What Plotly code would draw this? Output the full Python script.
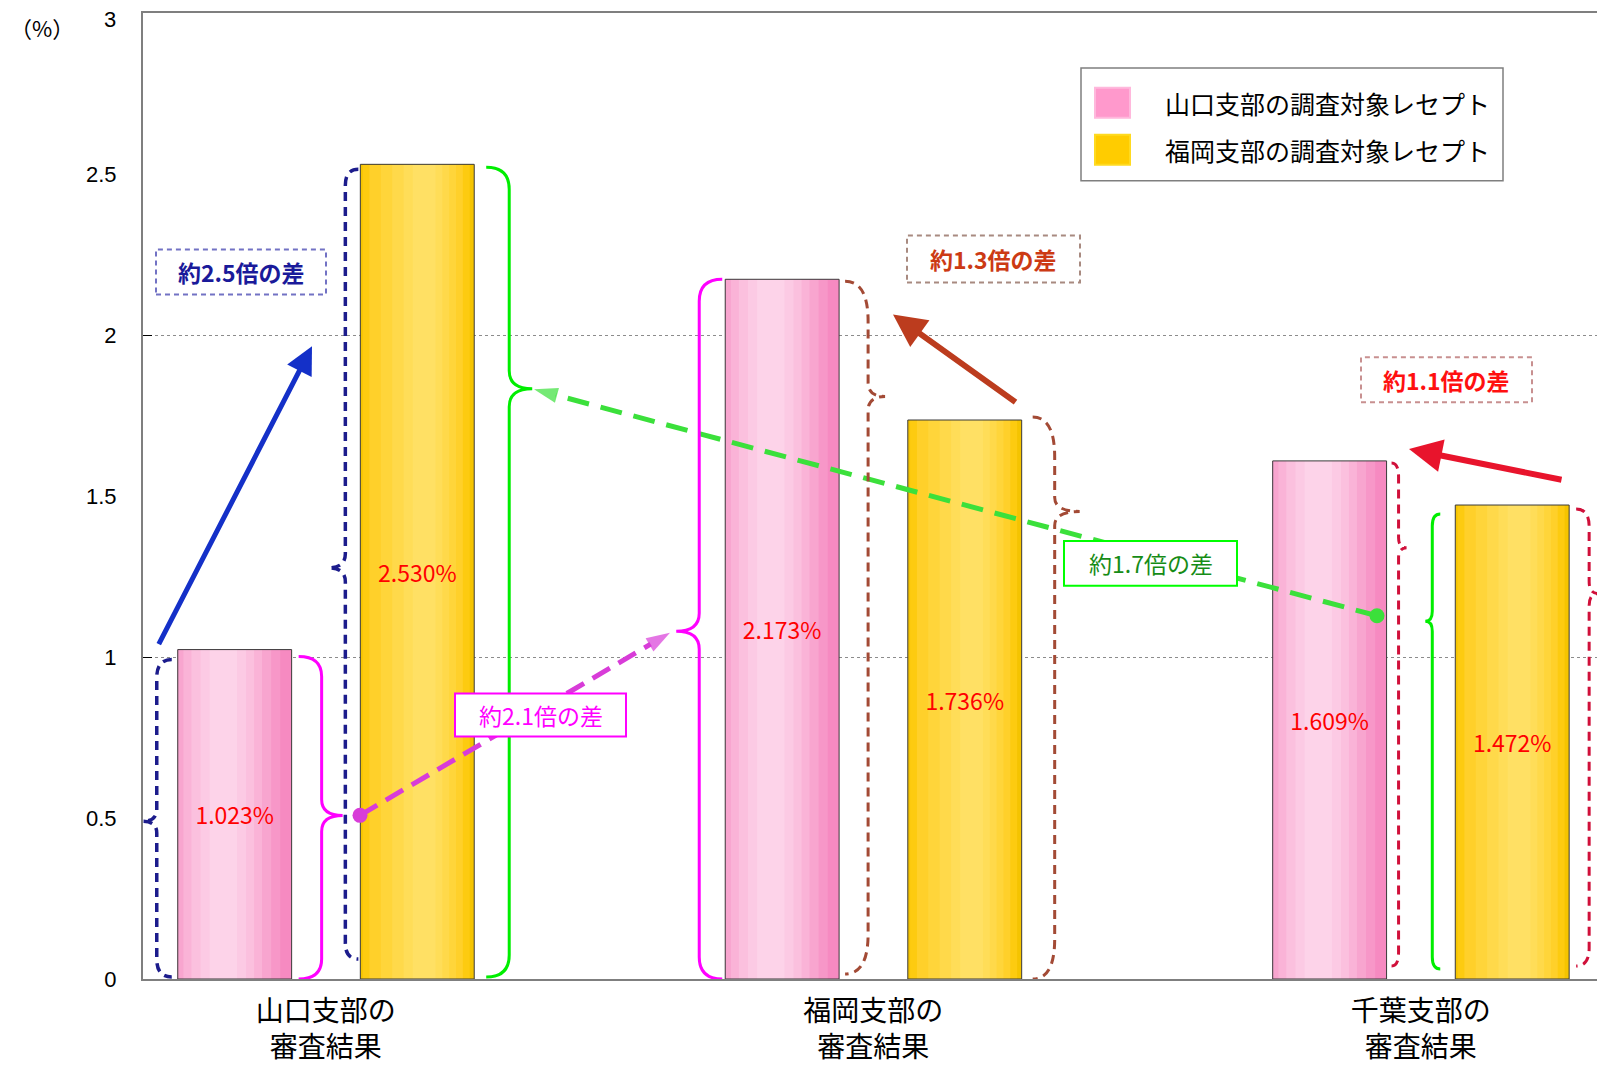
import plotly.graph_objects as go

# ---------------- data ----------------
categories = ["山口支部の<br>審査結果", "福岡支部の<br>審査結果", "千葉支部の<br>審査結果"]
series_names = ["山口支部の調査対象レセプト", "福岡支部の調査対象レセプト"]
yamaguchi_target = [1.023, 2.173, 1.609]
fukuoka_target = [2.530, 1.736, 1.472]
y_tick_vals = [0, 0.5, 1, 1.5, 2, 2.5, 3]
y_tick_text = ["0", "0.5", "1", "1.5", "2", "2.5", "3"]
ratio_labels = ["約2.5倍の差", "約2.1倍の差", "約1.7倍の差", "約1.3倍の差", "約1.1倍の差"]
y_unit = "（%）"

series_values = [yamaguchi_target, fukuoka_target]

# ---------------- layout geometry (page pixels) ----------------
W, H = 1605, 1068
PAGE_OFF = 8  # default body margin of the html page
ML, MR, MT, MB = 143, 3, 12, 88
PW, PH = W - ML - MR, H - MT - MB
X_RANGE = [-0.334, 2.331]
Y_RANGE = [0, 3]
BAR_W = 0.208
OFFSETS = [-0.2705, 0.063]
FONT = "Noto Sans CJK JP, Noto Sans, sans-serif"
NUM_FONT = "Liberation Sans, Arial"


def dx(px):
    return X_RANGE[0] + (px - ML) / PW * (X_RANGE[1] - X_RANGE[0])


def dy(py):
    return Y_RANGE[1] - (py - MT) / PH * (Y_RANGE[1] - Y_RANGE[0])


def xpx(x):
    return ML + (x - X_RANGE[0]) / (X_RANGE[1] - X_RANGE[0]) * PW


def vpy(v):
    return MT + (Y_RANGE[1] - v) / (Y_RANGE[1] - Y_RANGE[0]) * PH


def paper(px, py):
    return (px - ML) / PW, 1 - (py - MT) / PH


def edge(g, s, side):
    left = xpx(g + OFFSETS[s])
    return left if side == "L" else xpx(g + OFFSETS[s] + BAR_W)


x_pos = list(range(len(categories)))

# gradient layers (relative start, relative end, colour)
layer_styles = [
    [(0.00, 1.00, "#F68AC1"), (0.00, 0.90, "#F797C8"), (0.00, 0.82, "#F8A5CF"),
     (0.05, 0.74, "#FAB3D7"), (0.12, 0.67, "#FBC0DE"), (0.20, 0.60, "#FCCAE4"),
     (0.28, 0.52, "#FDD3E9")],
    [(0.00, 1.00, "#F5C400"), (0.02, 0.96, "#FDCB10"), (0.08, 0.90, "#FFD02A"),
     (0.18, 0.84, "#FFD53A"), (0.28, 0.78, "#FFD94A"), (0.38, 0.72, "#FFDD58"),
     (0.46, 0.66, "#FFE064")],
]

fig = go.Figure()
for s, vals in enumerate(series_values):
    for (r0, r1, col) in layer_styles[s]:
        fig.add_trace(go.Bar(
            x=x_pos, y=vals, width=BAR_W * (r1 - r0), offset=OFFSETS[s] + BAR_W * r0,
            marker=dict(color=col, line=dict(width=0)), showlegend=False, hoverinfo="skip"))
    fig.add_trace(go.Bar(
        x=x_pos, y=vals, width=BAR_W, offset=OFFSETS[s], name=series_names[s],
        marker=dict(color="rgba(0,0,0,0)", line=dict(color="#3A3A3A", width=1)),
        text=[f"{v:.3f}%" for v in vals], textposition="inside", insidetextanchor="middle",
        textangle=0, constraintext="none",
        textfont=dict(color="#FF0000", size=23, family=FONT), showlegend=False))

shapes = []
annotations = []

# ---------------- braces ----------------
def brace(x_end, x_body, x_tip, y_top, y_tip, y_bot, r_end, r_tip):
    def P(px, py):
        return f"{dx(px):.5f},{dy(py):.5f}"
    return (f"M{P(x_end, y_top)} Q{P(x_body, y_top)} {P(x_body, y_top + r_end)} "
            f"L{P(x_body, y_tip - r_tip)} Q{P(x_body, y_tip)} {P(x_tip, y_tip)} "
            f"Q{P(x_body, y_tip)} {P(x_body, y_tip + r_tip)} "
            f"L{P(x_body, y_bot - r_end)} Q{P(x_body, y_bot)} {P(x_end, y_bot)}")

BLUE_B = dict(color="#1C1C8C", width=3.5, dash="9px,6px")
MAG_B = dict(color="#FF00FF", width=3)
GRN_B = dict(color="#00EE00", width=3)
BRN_B = dict(color="#A34A35", width=3, dash="9px,6px")
RED_B = dict(color="#D0103A", width=3, dash="9px,6px")

# (group, series, edge side, d_end, d_body, d_tip, tip value, r_end, r_tip, top gap, bottom gap, style)
brace_specs = [
    (0, 0, "L", -6, -21, -35, 0.49, 18, 12, 10, 2, BLUE_B),
    (0, 1, "L", -2, -15, -32, 1.277, 16, 14, 5, 20, BLUE_B),
    (0, 0, "R", 7, 30, 51, 0.508, 20, 16, 7, 0, MAG_B),
    (0, 1, "R", 12, 35, 58, 1.833, 22, 18, 3, 2, GRN_B),
    (1, 0, "L", -3, -26, -49, 1.08, 22, 18, 0, 0, MAG_B),
    (1, 0, "R", 6, 29, 46, 1.809, 40, 14, 2, 5, BRN_B),
    (1, 1, "R", 11, 33, 58, 1.452, 40, 14, -3, 0, BRN_B),
    (2, 1, "L", -15, -23, -30, 1.111, 12, 10, 9, 10, GRN_B),
    (2, 0, "R", 5, 12, 20, 1.339, 14, 10, 2, 13, RED_B),
    (2, 1, "R", 7, 20, 29, 1.197, 18, 12, 4, 13, RED_B),
]
for g, s, side, de, db, dt, tipv, re_, rt, tg, bg, st in brace_specs:
    e = edge(g, s, side)
    top = vpy(series_values[s][g]) + tg
    bot = vpy(0) - bg
    shapes.append(dict(type="path", xref="x", yref="y", layer="above",
                       path=brace(e + de, e + db, e + dt, top, vpy(tipv), bot, re_, rt),
                       line=st, fillcolor="rgba(0,0,0,0)"))

# ---------------- dashed arrows (scatter) ----------------
dashed_arrows = [
    ((360, 816), (670, 633), "#D83CD8", "20px,10px"),
    ((1377, 616), (534, 389), "#3BE03B", "22px,12px"),
]
for (tx, ty), (hx, hy), col, dash in dashed_arrows:
    fig.add_trace(go.Scatter(
        x=[dx(tx), dx(hx)], y=[dy(ty), dy(hy)], mode="lines+markers",
        line=dict(color=col, width=5, dash=dash),
        marker=dict(symbol="arrow", size=[0, 25], color=col,
                    angleref="previous", line=dict(width=0)),
        showlegend=False, hoverinfo="skip", cliponaxis=False))
    fig.add_trace(go.Scatter(
        x=[dx(tx)], y=[dy(ty)], mode="markers",
        marker=dict(symbol="circle", size=15, color=col, line=dict(width=0)),
        showlegend=False, hoverinfo="skip", cliponaxis=False))

# ---------------- solid arrows (annotations) ----------------
solid_arrows = [
    ((158, 646), (312, 346), "#1430C8", 5),
    ((1017, 403), (893, 314), "#BC3C1E", 6),
    ((1563, 480), (1409, 449), "#E8142C", 6),
]
for (tx, ty), (hx, hy), col, w in solid_arrows:
    annotations.append(dict(x=dx(hx), y=dy(hy), ax=dx(tx), ay=dy(ty), xref="x", yref="y",
                            axref="x", ayref="y", showarrow=True, arrowhead=2, arrowsize=1.1,
                            arrowwidth=w, arrowcolor=col, text="", standoff=0))

# ---------------- ratio boxes ----------------
box_specs = [
    ((156, 249, 326, 294), ratio_labels[0], True, "#1A1A9A", "#7272C4", "5px,4px", 2),
    ((455, 694, 626, 737), ratio_labels[1], False, "#FF00FF", "#FF00FF", "solid", 2),
    ((1064, 541, 1237, 586), ratio_labels[2], False, "#168C16", "#00FF00", "solid", 2),
    ((907, 235, 1080, 282), ratio_labels[3], True, "#CC3A14", "#A88A80", "5px,4px", 2),
    ((1361, 357, 1532, 402), ratio_labels[4], True, "#FF1010", "#C89090", "5px,4px", 2),
]
for (x0, y0, x1, y1), txt, bold, tcol, bcol, dash, bw in box_specs:
    p0 = paper(x0, y1)
    p1 = paper(x1, y0)
    shapes.append(dict(type="rect", xref="paper", yref="paper", x0=p0[0], y0=p0[1],
                       x1=p1[0], y1=p1[1], fillcolor="white", layer="above",
                       line=dict(color=bcol, width=bw, dash=dash)))
    c = paper((x0 + x1) / 2, (y0 + y1) / 2)
    annotations.append(dict(x=c[0], y=c[1], xref="paper", yref="paper", showarrow=False,
                            text=f"<b>{txt}</b>" if bold else txt,
                            font=dict(size=23, color=tcol, family=FONT),
                            xanchor="center", yanchor="middle"))

# ---------------- legend (manual) ----------------
lg0, lg1 = paper(1081, 180), paper(1503, 67)
shapes.append(dict(type="rect", xref="paper", yref="paper", x0=lg0[0], y0=lg0[1],
                   x1=lg1[0], y1=lg1[1], fillcolor="white", layer="above",
                   line=dict(color="#7F7F7F", width=1.5)))
legend_swatch = [("#FF99CC", "#FFB8DC"), ("#FFCC00", "#FFDA20")]
for i, name in enumerate(series_names):
    yc = 102 + i * 47
    a, b = paper(1095, yc + 15), paper(1130, yc - 15)
    shapes.append(dict(type="rect", xref="paper", yref="paper", x0=a[0], y0=a[1], x1=b[0],
                       y1=b[1], fillcolor=legend_swatch[i][0], layer="above",
                       line=dict(color=legend_swatch[i][1], width=2)))
    t = paper(1163, yc)
    annotations.append(dict(x=t[0], y=t[1], xref="paper", yref="paper", showarrow=False,
                            text=name, xanchor="left", yanchor="middle",
                            font=dict(size=25, color="#000000", family=FONT)))

# y unit label
u = paper(42, 26)
annotations.append(dict(x=u[0], y=u[1], xref="paper", yref="paper", showarrow=False,
                        text=y_unit, xanchor="center", yanchor="middle", borderpad=0,
                        font=dict(size=22, color="#000000", family=FONT)))

# top tick label, drawn slightly inside the figure (as in the reference)
annotations.append(dict(x=paper(118, 0)[0], y=y_tick_vals[-1], xref="paper", yref="y",
                        showarrow=False, text=y_tick_text[-1], xanchor="right",
                        yanchor="middle", yshift=-6,
                        font=dict(size=22, color="#000000", family=NUM_FONT)))

fig.update_layout(
    width=W - PAGE_OFF, height=H - PAGE_OFF,
    margin=dict(l=ML - PAGE_OFF, r=MR, t=MT - PAGE_OFF, b=MB),
    paper_bgcolor="white", plot_bgcolor="white", barmode="overlay",
    showlegend=False, shapes=shapes, annotations=annotations,
    font=dict(family=FONT, color="#000000"),
    xaxis=dict(range=X_RANGE, tickvals=x_pos, ticktext=categories, showgrid=False,
               zeroline=False, showline=True, mirror=True, linecolor="#7F7F7F", linewidth=2,
               ticks="", tickfont=dict(size=28, color="#000000", family=FONT),
               ticklabelstandoff=6, fixedrange=True),
    yaxis=dict(range=Y_RANGE, tickvals=y_tick_vals[:-1], ticktext=y_tick_text[:-1],
               showgrid=False, zeroline=False, showline=True, linecolor="#7F7F7F",
               linewidth=2, ticks="",
               tickfont=dict(size=22, color="#000000", family=NUM_FONT),
               ticklabelstandoff=20,
               minor=dict(tickvals=[1, 2], showgrid=True, gridcolor="#8C8C8C",
                          griddash="3px,3px", gridwidth=1, ticks="inside", ticklen=9,
                          tickcolor="#000000")),
)

fig.write_html("out.html")
